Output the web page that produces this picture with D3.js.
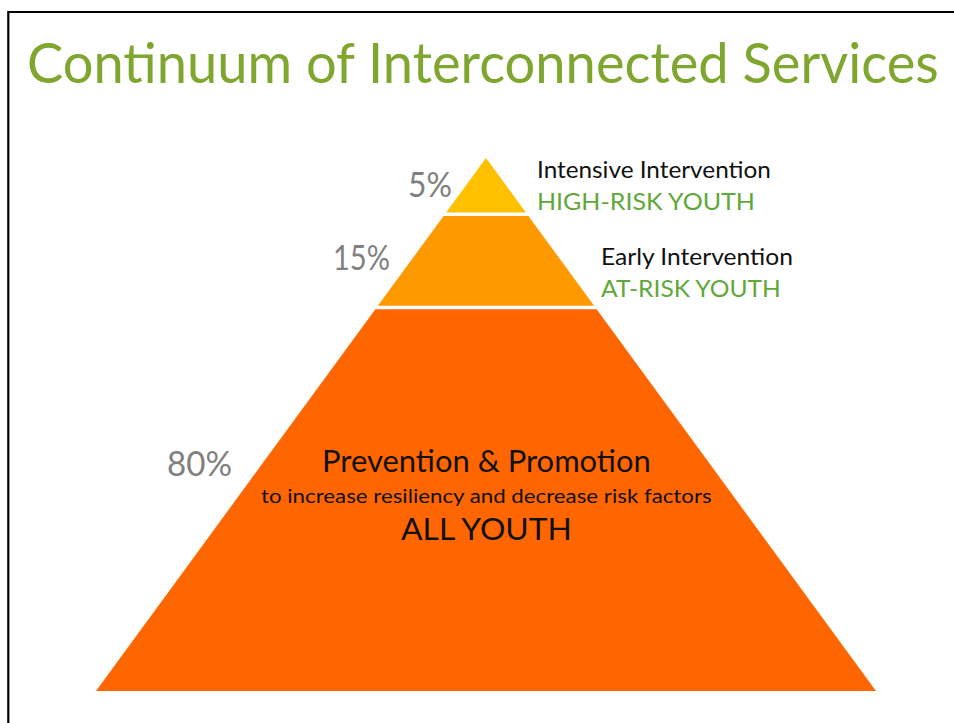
<!DOCTYPE html>
<html>
<head>
<meta charset="utf-8">
<script src="https://cdn.jsdelivr.net/npm/d3@7"></script>
<style>
  html, body { margin: 0; padding: 0; background: #fff; }
  svg { display: block; }
  text { font-family: Lato, "Open Sans", sans-serif; }
</style>
</head>
<body>
<div id="chart"></div>
<script>
// chart values
const tierNames = ["Intensive Intervention", "Early Intervention", "Prevention & Promotion"];
const tierGroups = ["HIGH-RISK YOUTH", "AT-RISK YOUTH", "ALL YOUTH"];
const tierShares = ["5%", "15%", "80%"];
const tierNote = "to increase resiliency and decrease risk factors";
const chartTitle = "Continuum of Interconnected Services";

// where each tier ends, as a fraction of the pyramid height (top -> bottom)
const tierBreaks = [0, 0.1055, 0.2805, 1];
const tierColors = ["#FFC000", "#FF9900", "#FF6600"];

function draw() {
	const fullWidth = 954, fullHeight = 723;

	const svg = d3.select("#chart").append("svg")
		.attr("width", fullWidth)
		.attr("height", fullHeight);

	// frame (top + left edge only)
	svg.append("path")
		.attr("d", "M8.3," + fullHeight + " L8.3,12 L" + fullWidth + ",12")
		.attr("fill", "none")
		.attr("stroke", "#000")
		.attr("stroke-width", 2.2);

	// squeeze a text horizontally so it spans w pixels starting at x
	function label(x, yy, w, size, color, str) {
		const g = svg.append("g");
		const t = g.append("text")
			.attr("x", 0).attr("y", 0)
			.attr("font-size", size)
			.attr("fill", color)
			.text(str);
		const natural = t.node().getComputedTextLength();
		g.attr("transform", "translate(" + x + "," + yy + ") scale(" + (w / natural) + ",1)");
		return t;
	}

	label(27, 83, 912, 57, "#7FA62E", chartTitle);

	// pyramid
	const apexX = 486;
	const y = d3.scaleLinear().domain([0, 1]).range([158, 691]);
	const halfW = d3.scaleLinear().domain([0, 1]).range([0, 390]);
	const gap = 3.4;

	const tiers = tierNames.map(function(name, i) {
		let top = y(tierBreaks[i]) + (i > 0 ? gap / 2 : 0);
		let bot = y(tierBreaks[i + 1]) - (i < tierNames.length - 1 ? gap / 2 : 0);
		return { name: name, i: i, top: top, bot: bot };
	});

	svg.append("g").selectAll("path")
		.data(tiers)
		.enter().append("path")
		.attr("d", function(d) {
			const wt = halfW(y.invert(d.top));
			const wb = halfW(y.invert(d.bot));
			return "M" + (apexX - wt) + "," + d.top +
				" L" + (apexX + wt) + "," + d.top +
				" L" + (apexX + wb) + "," + d.bot +
				" L" + (apexX - wb) + "," + d.bot + " Z";
		})
		.attr("fill", function(d) { return tierColors[d.i]; });

	// percent labels
	const shareLayout = [
		{ x: 452, y: 197, w: 44 },
		{ x: 390, y: 270, w: 57 },
		{ x: 232, y: 476, w: 65 }
	];
	tierShares.forEach(function(s, i) {
		const l = shareLayout[i];
		label(l.x - l.w, l.y, l.w, 34, "#808080", s);
	});

	// side labels for the two upper tiers
	const sideLayout = [
		{ x: 537, y: 178, w1: 234, w2: 218 },
		{ x: 601, y: 265, w1: 192, w2: 180 }
	];
	sideLayout.forEach(function(l, i) {
		label(l.x, l.y, l.w1, 23.5, "#111", tierNames[i]);
		label(l.x, l.y + 31.5, l.w2, 23.5, "#5FA83A", tierGroups[i]);
	});

	// text inside the base tier
	label(322, 472, 329, 30.5, "#111", tierNames[2]);
	label(261, 503, 451, 20, "#111", tierNote);
	label(401, 540, 171, 30.5, "#111", tierGroups[2]);
}

draw();
</script>
</body>
</html>
